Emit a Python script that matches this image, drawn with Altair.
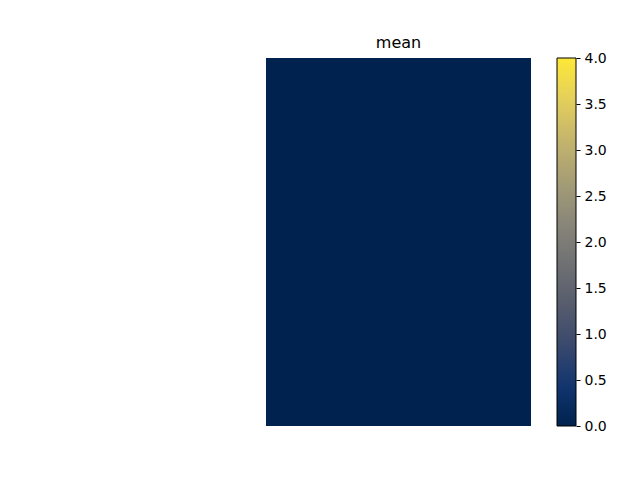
import altair as alt
import pandas as pd

# the "mean" image: a uniform field read as 0
rows = [0]
cols = [0]
values = [[0.0]]
tick_values = [0.0, 0.5, 1.0, 1.5, 2.0, 2.5, 3.0, 3.5, 4.0]
cividis = ["#00224e", "#123570", "#3b496c", "#575d6d", "#707173",
           "#8a8779", "#a69d75", "#c4b56c", "#e4cf5b", "#fee838"]

records = [{"row": r, "col": c, "value": values[r][c]} for r in rows for c in cols]
df = pd.DataFrame(records)

color_scale = alt.Scale(domain=[0, 4], range=cividis, interpolate="rgb")

heat = alt.Chart(df).mark_rect().encode(
    x=alt.X("col:O", axis=None, scale=alt.Scale(paddingInner=0, paddingOuter=0)),
    y=alt.Y("row:O", axis=None, scale=alt.Scale(paddingInner=0, paddingOuter=0)),
    color=alt.Color(
        "value:Q",
        scale=color_scale,
        legend=alt.Legend(
            orient="none",
            legendX=291,
            legendY=0,
            title=None,
            gradientLength=368,
            gradientThickness=19,
            gradientStrokeColor="black",
            gradientStrokeWidth=1,
            labelExpr="''",
            padding=0,
        ),
    ),
)

cbar_axis = alt.Chart(pd.DataFrame({"tick": tick_values})).mark_point(opacity=0).encode(
    y=alt.Y(
        "tick:Q",
        scale=alt.Scale(domain=[0, 4], nice=False, zero=False),
        axis=alt.Axis(
            orient="right",
            offset=45,
            values=tick_values,
            format=".1f",
            title=None,
            domain=False,
            grid=False,
            tickSize=4,
            tickColor="black",
            labelPadding=4,
            labelFontSize=14,
            labelColor="black",
            labelFont="DejaVu Sans",
        ),
    )
)

chart = (
    alt.layer(heat, cbar_axis)
    .resolve_scale(y="independent")
    .properties(
        width=265,
        height=368,
        title=alt.TitleParams("mean", fontSize=16, fontWeight="normal", font="DejaVu Sans", offset=0, color="black"),
        padding={"left": 258, "top": 50, "right": 101, "bottom": 46},
        autosize=alt.AutoSizeParams(type="none"),
    )
    .configure_view(stroke=None)
)

chart.save("out.html", embed_options={"renderer": "svg", "actions": False})
